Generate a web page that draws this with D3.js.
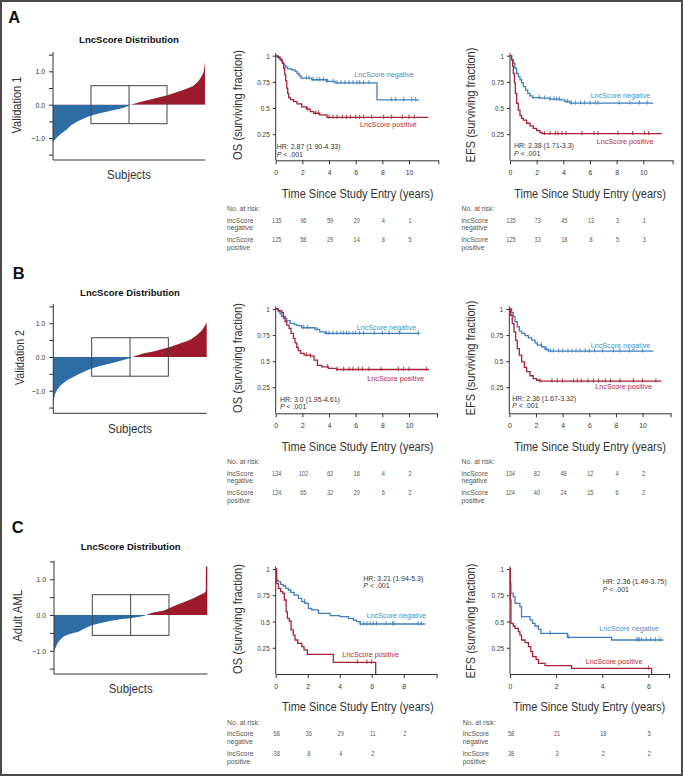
<!DOCTYPE html>
<html><head><meta charset="utf-8">
<script src="https://cdn.jsdelivr.net/npm/d3@7"></script>
<style>body{margin:0;background:#fff}svg{display:block}</style>
</head><body><svg id="c" width="683" height="776"></svg>
<script>
// ---------- DATA ----------
// LncScore distribution: [rank fraction, score]
const distA = [[0,-1.12],[0.007,-1.08],[0.018,-1.02],[0.044,-0.9],[0.066,-0.83],[0.088,-0.75],[0.12,-0.62],[0.154,-0.52],[0.198,-0.42],[0.246,-0.33],[0.308,-0.26],[0.374,-0.19],[0.44,-0.12],[0.484,-0.06],[0.51,0],[0.527,0.02],[0.593,0.1],[0.681,0.2],[0.752,0.28],[0.813,0.37],[0.879,0.48],[0.923,0.56],[0.956,0.7],[0.978,0.85],[0.991,0.98],[0.997,1.15],[1,1.28]];
const distB = [[0,-1.38],[0.004,-1.25],[0.013,-1.08],[0.026,-0.97],[0.043,-0.86],[0.087,-0.7],[0.152,-0.54],[0.207,-0.42],[0.25,-0.34],[0.304,-0.27],[0.391,-0.17],[0.457,-0.09],[0.5,-0.03],[0.517,0],[0.533,0.03],[0.587,0.1],[0.652,0.16],[0.75,0.28],[0.826,0.4],[0.891,0.5],[0.935,0.64],[0.967,0.78],[0.989,0.93],[1,1.02]];
const distC = [[0,-1.0],[0.011,-0.91],[0.022,-0.8],[0.039,-0.7],[0.061,-0.61],[0.083,-0.56],[0.115,-0.52],[0.159,-0.47],[0.202,-0.37],[0.25,-0.28],[0.3,-0.23],[0.365,-0.17],[0.43,-0.12],[0.498,-0.09],[0.561,-0.05],[0.604,0],[0.615,0.02],[0.648,0.07],[0.713,0.12],[0.75,0.19],[0.8,0.28],[0.854,0.37],[0.909,0.47],[0.952,0.56],[0.985,0.63],[0.99,0.68],[0.9905,1.36],[1,1.36]];

// Kaplan-Meier steps: [time (years), surviving fraction]
const osNegA = [[0,1],[0.1,0.99],[0.25,0.975],[0.4,0.95],[0.5,0.93],[0.6,0.91],[0.75,0.89],[0.9,0.875],[1.2,0.865],[1.45,0.85],[1.6,0.83],[1.75,0.81],[1.9,0.785],[2.7,0.77],[3.8,0.755],[4.45,0.74],[7.6,0.578],[10.75,0.578]];
const osPosA = [[0,1],[0.15,0.985],[0.33,0.96],[0.5,0.93],[0.6,0.88],[0.68,0.82],[0.75,0.76],[0.83,0.69],[0.9,0.64],[0.97,0.6],[1.1,0.58],[1.35,0.56],[1.6,0.54],[1.95,0.51],[2.3,0.49],[2.6,0.465],[2.85,0.45],[3.3,0.435],[3.85,0.41],[11.45,0.41]];
const efsNegA = [[0,1],[0.12,0.96],[0.25,0.93],[0.37,0.88],[0.5,0.83],[0.62,0.8],[0.75,0.77],[0.87,0.74],[1.0,0.705],[1.17,0.67],[1.33,0.64],[1.5,0.615],[1.7,0.6],[2.25,0.594],[3.0,0.584],[3.75,0.578],[4.1,0.562],[4.5,0.546],[10.75,0.546]];
const efsPosA = [[0,1],[0.12,0.96],[0.2,0.9],[0.25,0.83],[0.33,0.74],[0.4,0.64],[0.5,0.545],[0.62,0.48],[0.75,0.43],[0.87,0.4],[1.0,0.385],[1.25,0.354],[1.5,0.33],[1.75,0.306],[2.0,0.284],[2.25,0.265],[2.4,0.255],[11.4,0.255]];
const osNegB = [[0,1],[0.2,0.974],[0.33,0.95],[0.45,0.93],[0.58,0.91],[0.83,0.888],[1.08,0.862],[1.4,0.85],[1.6,0.84],[1.95,0.82],[2.95,0.804],[3.3,0.78],[3.7,0.766],[10.8,0.766]];
const osPosB = [[0,1],[0.2,0.984],[0.45,0.965],[0.58,0.926],[0.7,0.88],[0.83,0.846],[1.0,0.814],[1.15,0.766],[1.33,0.718],[1.45,0.676],[1.58,0.631],[1.7,0.6],[1.88,0.574],[2.13,0.558],[2.6,0.548],[2.88,0.51],[3.13,0.46],[3.45,0.446],[3.95,0.43],[4.58,0.42],[11.5,0.42]];
const efsNegB = [[0,1],[0.18,0.965],[0.3,0.926],[0.43,0.878],[0.6,0.83],[0.75,0.788],[0.93,0.766],[1.18,0.744],[1.43,0.724],[1.68,0.702],[1.93,0.676],[2.1,0.654],[2.43,0.638],[2.68,0.612],[2.93,0.596],[10.8,0.596]];
const efsPosB = [[0,1],[0.1,0.94],[0.22,0.86],[0.35,0.78],[0.48,0.7],[0.6,0.62],[0.75,0.558],[0.93,0.494],[1.13,0.44],[1.3,0.4],[1.55,0.36],[1.8,0.333],[2.05,0.317],[2.3,0.308],[11.4,0.308]];
const osNegC = [[0,1],[0.04,0.895],[0.17,0.88],[0.31,0.854],[0.48,0.838],[0.63,0.816],[0.79,0.8],[0.94,0.778],[1.15,0.752],[1.42,0.72],[1.63,0.689],[1.83,0.673],[2.04,0.625],[2.25,0.61],[2.67,0.578],[3.4,0.556],[4.02,0.546],[4.54,0.53],[4.85,0.514],[5.06,0.498],[5.27,0.476],[9.33,0.476]];
const osPosC = [[0,1],[0.06,0.86],[0.17,0.816],[0.31,0.784],[0.44,0.768],[0.54,0.705],[0.65,0.594],[0.73,0.53],[0.85,0.505],[0.96,0.42],[1.1,0.371],[1.21,0.324],[1.38,0.292],[1.63,0.26],[1.77,0.229],[1.98,0.187],[3.6,0.111],[6.25,0]];
const efsNegC = [[0,1],[0.015,0.863],[0.04,0.768],[0.14,0.737],[0.22,0.673],[0.43,0.641],[0.5,0.546],[0.87,0.514],[0.98,0.483],[1.08,0.457],[1.23,0.425],[1.34,0.387],[2.49,0.349],[4.41,0.324],[6.65,0.324]];
const efsPosC = [[0,1],[0.015,0.705],[0.04,0.483],[0.14,0.457],[0.22,0.435],[0.36,0.403],[0.43,0.371],[0.5,0.324],[0.65,0.298],[0.8,0.26],[0.9,0.213],[0.98,0.165],[1.13,0.14],[1.23,0.102],[1.52,0.079],[2.67,0.054],[6.14,0]];

// censoring times (years)
const osNegCensA = [2.3,2.5,2.8,3.1,3.3,3.6,3.9,4.3,4.6,4.9,5.2,5.5,5.8,6.1,6.3,6.6,7.0,8.7,9.0,9.6,10.2,10.5];
const osPosCensA = [2.4,3.0,3.2,4.0,4.3,4.6,5.0,5.3,5.6,6.0,6.3,6.6,7.2,8.1,8.7,9.5,10.0,10.4];
const efsNegCensA = [2.2,2.6,3.0,3.3,3.5,3.7,4.3,4.6,4.9,5.3,5.6,6.0,6.4,6.6,8.2,9.0,9.7,10.3];
const efsPosCensA = [2.6,3.0,3.4,3.6,3.9,4.2,5.4,6.3,6.6,8.1,9.2,10.1,10.4];
const osNegCensB = [2.1,2.4,3.1,3.8,4.0,4.3,4.6,4.9,5.1,5.3,5.5,5.8,6.0,6.3,6.6,7.4,8.0,8.5,9.3,10.7];
const osPosCensB = [2.3,2.6,3.9,4.6,5.1,5.5,5.8,6.2,6.5,7.0,7.9,9.2,9.6,10.0,11.3];
const efsNegCensB = [2.4,2.8,3.1,3.3,3.7,4.0,4.4,4.7,5.0,5.3,5.7,6.0,6.4,7.0,7.8,8.3,9.0,10.0];
const efsPosCensB = [2.3,3.2,3.6,4.0,4.8,5.1,5.4,5.9,6.3,6.7,7.2,7.6,8.3,9.3,10.0,11.0];
const osNegCensC = [1.8,5.3,5.5,5.7,5.9,6.1,6.3,6.9,7.3,7.4,8.9,9.1];
const osPosCensC = [5.1,5.7,6.0];
const efsNegCensC = [0.5,1.75,2.55,5.5,5.55,5.6,5.7,5.9,6.1,6.3,6.5];
const efsPosCensC = [6.0];

// numbers at risk
const riskOsNegA = [135,96,59,20,4,1],  riskOsPosA = [125,58,29,14,8,5];
const riskEfsNegA = [135,73,45,13,3,1], riskEfsPosA = [125,33,18,8,5,3];
const riskOsNegB = [134,102,63,16,4,2], riskOsPosB = [124,65,32,20,6,2];
const riskEfsNegB = [134,82,48,12,4,2], riskEfsPosB = [124,40,24,15,6,2];
const riskOsNegC = [58,36,29,11,2],     riskOsPosC = [38,8,4,2];
const riskEfsNegC = [58,21,18,5],       riskEfsPosC = [38,3,2,2];

// tick values
const ticksLong = [0,2,4,6,8,10];
const ticksC_OS = [0,2,4,6,8];
const ticksC_EFS = [0,2,4,6];
const kmYTicks = [0.25,0.5,0.75,1];
const distYTicks = [-1.5,-1,-0.5,0,0.5,1,1.5];

const hrText = {AOS:"HR: 2.87 (1.90-4.33)", AEFS:"HR: 2.38 (1.71-3.3)", BOS:"HR: 3.0 (1.95-4.61)", BEFS:"HR: 2.36 (1.67-3.32)", COS:"HR: 3.21 (1.94-5.3)", CEFS:"HR: 2.36 (1.49-3.75)"};

// ---------- STYLE ----------
const FONT = "'Liberation Sans', Arial, Helvetica, sans-serif";
const BAR_BLUE = "#2d6ca5", BAR_RED = "#9c1a2b";
const LINE_BLUE = "#3f7fc1", LINE_RED = "#a82335";
const LAB_BLUE = "#4d8ac6", LAB_RED = "#b22a3c";
const AX = "#333";

const svg = d3.select("#c");
const defs = svg.append("defs");

// text placed via a transform so that horizontal condensing is a real geometric scale
function addText(g, s, x, y, o = {}) {
  const gg = g.append("g");
  const t = gg.append("text").attr("x", 0).attr("y", 0).text(s)
    .attr("font-family", FONT).attr("font-size", o.size || 7)
    .attr("fill", o.fill || "#444").attr("text-anchor", o.anchor || "start");
  if (o.weight) t.attr("font-weight", o.weight);
  let sx = 1;
  if (o.len) sx = o.len / t.node().getComputedTextLength();
  else if (o.squeeze) sx = o.squeeze;
  let tr = `translate(${x},${y})`;
  if (o.rotate) tr += ` rotate(${o.rotate})`;
  if (sx !== 1) tr += ` scale(${sx.toFixed(4)},1)`;
  gg.attr("transform", tr);
  return t;
}
function squeezeAll(sel, f) {
  sel.each(function () {
    const w = this.getComputedTextLength();
    if (w > 0) d3.select(this).attr("textLength", w * f).attr("lengthAdjust", "spacingAndGlyphs");
  });
}

// frame
svg.append("rect").attr("x", 1).attr("y", 1).attr("width", 681).attr("height", 774)
  .attr("fill", "none").attr("stroke", "#4a4a4a").attr("stroke-width", 2);

// ---------- DISTRIBUTION PANELS ----------
const distRows = [
  {id:"A", data:distA, x0:53, x1:205, yTop:52, yBase:160, dom:[-1.66,1.58], titleY:43.3, subjY:178.5, letter:[8.3,23.3], label:"Validation 1", labelPos:[20.7,105], labelLen:57},
  {id:"B", data:distB, x0:53.3, x1:206.7, yTop:304, yBase:413.3, dom:[-1.67,1.57], titleY:295.7, subjY:432.7, letter:[12.7,279], label:"Validation 2", labelPos:[24,357.5], labelLen:55},
  {id:"C", data:distC, x0:54, x1:207.3, yTop:560.7, yBase:674, dom:[-1.65,1.52], titleY:550, subjY:693.3, letter:[11.7,533.3], label:"Adult AML", labelPos:[21.7,615.8], labelLen:52}
];

distRows.forEach(r => {
  const g = svg.append("g");
  addText(g, r.id, r.letter[0], r.letter[1], {size:16.5, weight:"bold", fill:"#111"});
  addText(g, r.label, r.labelPos[0], r.labelPos[1], {size:13, fill:"#333", anchor:"middle", rotate:-90, len:r.labelLen});
  const cx = (r.x0 + r.x1) / 2;
  addText(g, "LncScore Distribution", cx, r.titleY, {size:9, weight:"bold", fill:"#111", anchor:"middle", len:100});
  addText(g, "Subjects", cx, r.subjY, {size:13, fill:"#333", anchor:"middle", len:44});

  const x = d3.scaleLinear().domain([0, 1]).range([r.x0, r.x1]);
  const y = d3.scaleLinear().domain(r.dom).range([r.yBase, r.yTop]);
  defs.append("clipPath").attr("id", "neg" + r.id).append("rect")
    .attr("x", r.x0 - 2).attr("y", y(0)).attr("width", r.x1 - r.x0 + 4).attr("height", r.yBase - y(0));
  defs.append("clipPath").attr("id", "pos" + r.id).append("rect")
    .attr("x", r.x0 - 2).attr("y", r.yTop - 20).attr("width", r.x1 - r.x0 + 4).attr("height", y(0) - r.yTop + 20);
  const area = d3.area().x(d => x(d[0])).y0(y(0)).y1(d => y(d[1]));
  g.append("path").datum(r.data).attr("d", area).attr("fill", BAR_BLUE).attr("clip-path", `url(#neg${r.id})`);
  g.append("path").datum(r.data).attr("d", area).attr("fill", BAR_RED).attr("clip-path", `url(#pos${r.id})`);

  // box
  g.append("rect").attr("x", x(0.25)).attr("y", y(0.57)).attr("width", x(0.75) - x(0.25))
    .attr("height", y(-0.57) - y(0.57)).attr("fill", "none").attr("stroke", "#444").attr("stroke-width", 1);
  g.append("line").attr("x1", x(0.5)).attr("x2", x(0.5)).attr("y1", y(0.57)).attr("y2", y(-0.57))
    .attr("stroke", "#444").attr("stroke-width", 1);

  // axes
  const ya = g.append("g").attr("transform", `translate(${r.x0},0)`)
    .call(d3.axisLeft(y).tickValues(distYTicks).tickSize(4).tickSizeOuter(0).tickPadding(4)
      .tickFormat(d => Number.isInteger(d) ? (d < 0 ? "\u2212" : "") + Math.abs(d).toFixed(1) : ""));
  ya.attr("font-family", FONT).attr("font-size", 8).attr("color", AX);
  ya.select(".domain").remove();
  squeezeAll(ya.selectAll("text"), 0.85);
  g.append("line").attr("x1", r.x0).attr("x2", r.x0).attr("y1", r.yTop).attr("y2", r.yBase).attr("stroke", AX);
  g.append("line").attr("x1", r.x0).attr("x2", r.x1).attr("y1", r.yBase).attr("y2", r.yBase).attr("stroke", AX);
});

// ---------- KAPLAN-MEIER PANELS ----------
const kmPanels = [
  {key:"AOS", title:"OS (surviving fraction)", x0:275.7, ppy:13.33, xMax:12.2, yOne:55.7, yBase:160.3, ticks:ticksLong, neg:osNegA, pos:osPosA, cNeg:osNegCensA, cPos:osPosCensA, rNeg:riskOsNegA, rPos:riskOsPosA,
   ytx:241.5, yty:105, ytLen:110, xtx:357.6, tabX:227, hr:[276.7,149], lNeg:[354.3,77.3], lPos:[360,126.7]},
  {key:"AEFS", title:"EFS (surviving fraction)", x0:510, ppy:13.33, xMax:12.2, yOne:55.7, yBase:160.3, ticks:ticksLong, neg:efsNegA, pos:efsPosA, cNeg:efsNegCensA, cPos:efsPosCensA, rNeg:riskEfsNegA, rPos:riskEfsPosA,
   ytx:475, yty:105, ytLen:115, xtx:590, tabX:461.5, hr:[514,148.3], lNeg:[590.7,98.3], lPos:[596.7,144.3]},
  {key:"BOS", title:"OS (surviving fraction)", x0:275.7, ppy:13.33, xMax:12.1, yOne:309, yBase:413.3, ticks:ticksLong, neg:osNegB, pos:osPosB, cNeg:osNegCensB, cPos:osPosCensB, rNeg:riskOsNegB, rPos:riskOsPosB,
   ytx:242, yty:358, ytLen:110, xtx:357.6, tabX:227, hr:[280,401.7], lNeg:[356.7,330], lPos:[367.3,380.7]},
  {key:"BEFS", title:"EFS (surviving fraction)", x0:509.3, ppy:13.33, xMax:12.1, yOne:309, yBase:413.3, ticks:ticksLong, neg:efsNegB, pos:efsPosB, cNeg:efsNegCensB, cPos:efsPosCensB, rNeg:riskEfsNegB, rPos:riskEfsPosB,
   ytx:474.5, yty:358, ytLen:115, xtx:590, tabX:461.5, hr:[512.3,400.7], lNeg:[590.7,348.3], lPos:[595.3,389.3]},
  {key:"COS", title:"OS (surviving fraction)", x0:275.7, ppy:16, xMax:10.06, yOne:569, yBase:674, ticks:ticksC_OS, neg:osNegC, pos:osPosC, cNeg:osNegCensC, cPos:osPosCensC, rNeg:riskOsNegC, rPos:riskOsPosC,
   ytx:242, yty:619, ytLen:110, xtx:357.8, tabX:227, hr:[363.3,580.7], lNeg:[366.7,618.3], lPos:[342.3,657.3]},
  {key:"CEFS", title:"EFS (surviving fraction)", x0:510, ppy:23.06, xMax:6.9, yOne:569, yBase:674, ticks:ticksC_EFS, neg:efsNegC, pos:efsPosC, cNeg:efsNegCensC, cPos:efsPosCensC, rNeg:riskEfsNegC, rPos:riskEfsPosC,
   ytx:475, yty:621, ytLen:115, xtx:589.2, tabX:462.7, hr:[602.7,584], lNeg:[599.3,631], lPos:[585.7,663.7]}
];

function stepAt(data, t) {
  let s = data[0][1];
  for (const d of data) { if (d[0] <= t) s = d[1]; else break; }
  return s;
}

kmPanels.forEach(p => {
  const g = svg.append("g");
  const x = d3.scaleLinear().domain([0, p.xMax]).range([p.x0, p.x0 + p.xMax * p.ppy]);
  const y = d3.scaleLinear().domain([0, 1]).range([p.yBase, p.yOne]);

  // x axis
  const xa = g.append("g").attr("transform", `translate(0,${p.yBase})`)
    .call(d3.axisBottom(x).tickValues(p.ticks.concat([p.xMax])).tickSize(4).tickSizeOuter(0).tickPadding(5)
      .tickFormat(d => p.ticks.includes(d) ? d : ""));
  xa.attr("font-family", FONT).attr("font-size", 8).attr("color", AX);
  squeezeAll(xa.selectAll("text"), 0.85);
  // y axis
  const ya = g.append("g").attr("transform", `translate(${p.x0},0)`)
    .call(d3.axisLeft(y).tickValues(kmYTicks).tickSize(3).tickSizeOuter(0).tickPadding(3)
      .tickFormat(d => d === 1 ? "1" : String(d)));
  ya.attr("font-family", FONT).attr("font-size", 8).attr("color", AX);
  ya.select(".domain").remove();
  squeezeAll(ya.selectAll("text"), 0.8);
  g.append("line").attr("x1", p.x0).attr("x2", p.x0).attr("y1", y(1.025)).attr("y2", p.yBase).attr("stroke", AX);

  // titles
  addText(g, p.title, p.ytx, p.yty, {size:13.5, fill:"#333", anchor:"middle", rotate:-90, len:p.ytLen});
  addText(g, "Time Since Study Entry (years)", p.xtx, p.yBase + 37.3, {size:13.5, fill:"#333", anchor:"middle", len:152});

  // curves
  const line = d3.line().x(d => x(d[0])).y(d => y(d[1])).curve(d3.curveStepAfter);
  [[p.neg, p.cNeg, LINE_BLUE], [p.pos, p.cPos, LINE_RED]].forEach(([data, cens, col]) => {
    g.append("path").datum(data).attr("d", line).attr("fill", "none").attr("stroke", col).attr("stroke-width", 1.3);
    g.selectAll(null).data(cens).join("line")
      .attr("x1", d => x(d)).attr("x2", d => x(d))
      .attr("y1", d => y(stepAt(data, d)) - 2.8).attr("y2", d => y(stepAt(data, d)) + 1.5)
      .attr("stroke", col).attr("stroke-width", 0.9);
  });

  // labels
  addText(g, "LncScore negative", p.lNeg[0], p.lNeg[1], {size:7.2, fill:LAB_BLUE});
  addText(g, "LncScore positive", p.lPos[0], p.lPos[1], {size:7.2, fill:LAB_RED});
  addText(g, hrText[p.key], p.hr[0], p.hr[1], {size:7, fill:"#333"});
  const pt = g.append("text").attr("x", p.hr[0]).attr("y", p.hr[1] + 7.7)
    .attr("font-family", FONT).attr("font-size", 7).attr("fill", "#333");
  pt.append("tspan").attr("font-style", "italic").text("P");
  pt.append("tspan").text(" < .001");

  // risk table
  const b = p.yBase;
  addText(g, "No. at risk:", p.tabX, b + 51, {size:6.9, fill:"#555"});
  addText(g, "lncScore", p.tabX, b + 62.2, {size:6.8, fill:"#555"});
  addText(g, "negative", p.tabX, b + 69.9, {size:6.8, fill:"#555"});
  addText(g, "lncScore", p.tabX, b + 82.0, {size:6.8, fill:"#555"});
  addText(g, "positive", p.tabX, b + 89.7, {size:6.8, fill:"#555"});
  p.rNeg.forEach((v, i) => addText(g, v, x(p.ticks[i]) + 1, b + 62.2, {size:7, fill:"#555", anchor:"middle", squeeze:0.8}));
  p.rPos.forEach((v, i) => addText(g, v, x(p.ticks[i]) + 1, b + 82.0, {size:7, fill:"#555", anchor:"middle", squeeze:0.8}));
});
</script>
</body></html>
